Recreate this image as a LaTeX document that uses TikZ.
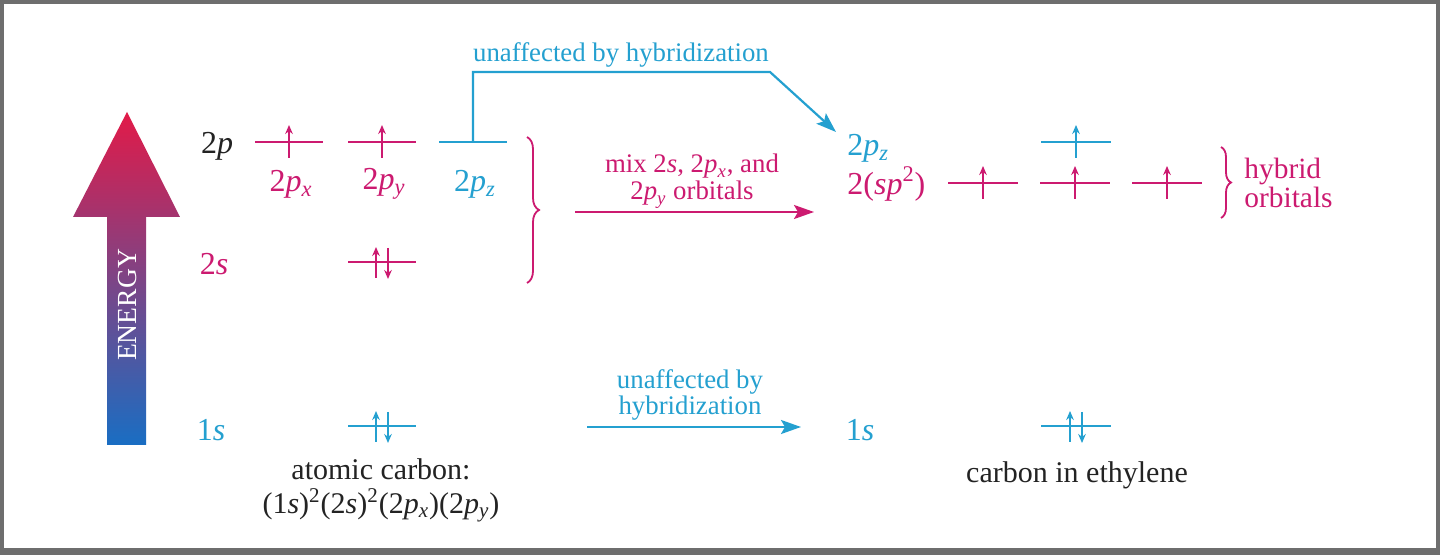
\documentclass[tikz,border=0pt]{standalone}
\usepackage{fontspec}
\setmainfont{Liberation Serif}
\usetikzlibrary{arrows.meta,decorations.pathreplacing}
\definecolor{mag}{RGB}{204,26,112}
\definecolor{cy}{RGB}{36,160,208}
\definecolor{ink}{RGB}{35,35,35}
\definecolor{framec}{RGB}{110,110,110}
\definecolor{enred}{RGB}{226,26,72}
\definecolor{enmid}{RGB}{130,75,140}
\definecolor{enblue}{RGB}{25,110,195}
\newcommand\orb[1]{2\textit{p}\textsubscript{\textit{#1}}}
\begin{document}
\begin{tikzpicture}[x=0.5pt,y=-0.5pt,
  lev/.style={line width=1.1pt},
  eup/.style={line width=0.75pt,-{Stealth[length=4.5pt,width=3.8pt]}},
  lab/.style={font=\fontsize{16}{18}\selectfont, inner sep=0pt},
  note/.style={font=\fontsize{13.4}{13}\selectfont, align=center, inner sep=0pt},
  captxt/.style={font=\fontsize{15}{16}\selectfont, align=center, inner sep=0pt, text=ink},
  conn/.style={line width=1.1pt, -{Stealth[length=10pt,width=7pt,inset=2pt]}},
  bigbrace/.style={decorate, decoration={brace, amplitude=6pt}, line width=0.9pt},
]
% frame
\fill[framec] (0,0) rectangle (1440,555);
\fill[white] (4,4) rectangle (1436,548);
\useasboundingbox (0,0) rectangle (1440,555);

% energy arrow
\shade[top color=enred, middle color=enmid, bottom color=enblue]
  (107,445) -- (107,217) -- (73,217) -- (127,112) -- (180,217) -- (146,217) -- (146,445) -- cycle;
\node[rotate=90, text=white, font=\fontsize{13.8}{14}\selectfont, inner sep=0pt] (energy) at (127,305) {ENERGY};

% level coordinates
\coordinate (px) at (289,142);
\coordinate (py) at (382,142);
\coordinate (pz) at (473,142);
\coordinate (s2) at (382,262);
\coordinate (s1) at (382,426);
\coordinate (h1) at (983,183);
\coordinate (h2) at (1075,183);
\coordinate (h3) at (1167,183);
\coordinate (rpz) at (1076,142);
\coordinate (rs1) at (1076,426);

% left levels
\draw[lev, mag] (px) ++(-34,0) -- ++(68,0);
\draw[lev, mag] (py) ++(-34,0) -- ++(68,0);
\draw[lev, cy]  (pz) ++(-34,0) -- ++(68,0);
\draw[lev, mag] (s2) ++(-34,0) -- ++(68,0);
\draw[lev, cy]  (s1) ++(-34,0) -- ++(68,0);
\draw[eup, mag] (px) ++(0,16) -- ++(0,-33);
\draw[eup, mag] (py) ++(0,16) -- ++(0,-33);
\draw[eup, mag] (s2) ++(-6,16) -- ++(0,-31);
\draw[eup, mag] (s2) ++(6,-14) -- ++(0,31);
\draw[eup, cy] (s1) ++(-6,16) -- ++(0,-31);
\draw[eup, cy] (s1) ++(6,-14) -- ++(0,31);

% right levels
\draw[lev, mag] (h1) ++(-35,0) -- ++(70,0);
\draw[lev, mag] (h2) ++(-35,0) -- ++(70,0);
\draw[lev, mag] (h3) ++(-35,0) -- ++(70,0);
\draw[lev, cy]  (rpz) ++(-35,0) -- ++(70,0);
\draw[lev, cy]  (rs1) ++(-35,0) -- ++(70,0);
\draw[eup, mag] (h1) ++(0,16) -- ++(0,-33);
\draw[eup, mag] (h2) ++(0,16) -- ++(0,-33);
\draw[eup, mag] (h3) ++(0,16) -- ++(0,-33);
\draw[eup, cy] (rpz) ++(0,16) -- ++(0,-33);
\draw[eup, cy] (rs1) ++(-6,16) -- ++(0,-31);
\draw[eup, cy] (rs1) ++(6,-14) -- ++(0,31);

% left labels
\node[lab, text=ink] (l2p) at (217,146) {2\textit{p}};
\node[lab, text=mag] (lpx) at (291,184) {\orb{x}};
\node[lab, text=mag] (lpy) at (384,184) {\orb{y}};
\node[lab, text=cy]  (lpz) at (475,184) {\orb{z}};
\node[lab, text=mag] (l2s) at (214,264) {2\textit{s}};
\node[lab, text=cy]  (l1s) at (211,430) {1\textit{s}};

% brace left
\draw[bigbrace, mag] (527,137) -- (527,283);

% right labels
\node[lab, text=cy, anchor=west]  (rpzl) at (847,148) {\orb{z}};
\node[lab, text=mag, anchor=west] (rsp)  at (847,184) {2(\textit{sp}\textsuperscript{2})};
\node[lab, text=cy]  (r1s) at (860,430) {1\textit{s}};
\draw[decorate, decoration={brace, amplitude=5pt}, line width=0.9pt, mag] (1221,147) -- (1221,218);
\node[font=\fontsize{14.7}{14.5}\selectfont, text=mag, align=left, anchor=west, inner sep=0pt] (hyb) at (1244,183) {hybrid\\orbitals};

% top cyan connector
\node[note, text=cy] (unaff1) at (621,55) {unaffected by hybridization};
\coordinate (bend) at (770,72);
\coordinate (pztip) at (836,132);
\draw[conn, cy] (pz) |- (bend) -- (pztip);

% mix arrow
\node[note, text=mag, anchor=base] (mixa) at (692,173) {mix 2\textit{s}, \orb{x}, and};
\node[note, text=mag, anchor=base] (mixb) at (692,200) {\orb{y} orbitals};
\coordinate (mixs) at (575,212);
\coordinate (mixe) at (814,212);
\draw[conn, mag] (mixs) -- (mixe);

% bottom cyan arrow
\node[note, text=cy] (unaff2) at (690,395) {unaffected by\\hybridization};
\coordinate (us) at (587,427);
\coordinate (ue) at (801,427);
\draw[conn, cy] (us) -- (ue);

% captions
\node[captxt, anchor=base] (atc) at (381,480) {atomic carbon:};
\node[captxt, anchor=base] (atf) at (381,513) {(1\textit{s})\textsuperscript{2}(2\textit{s})\textsuperscript{2}(\orb{x})(\orb{y})};
\node[captxt] (eth) at (1077,475) {carbon in ethylene};
\end{tikzpicture}
\end{document}
